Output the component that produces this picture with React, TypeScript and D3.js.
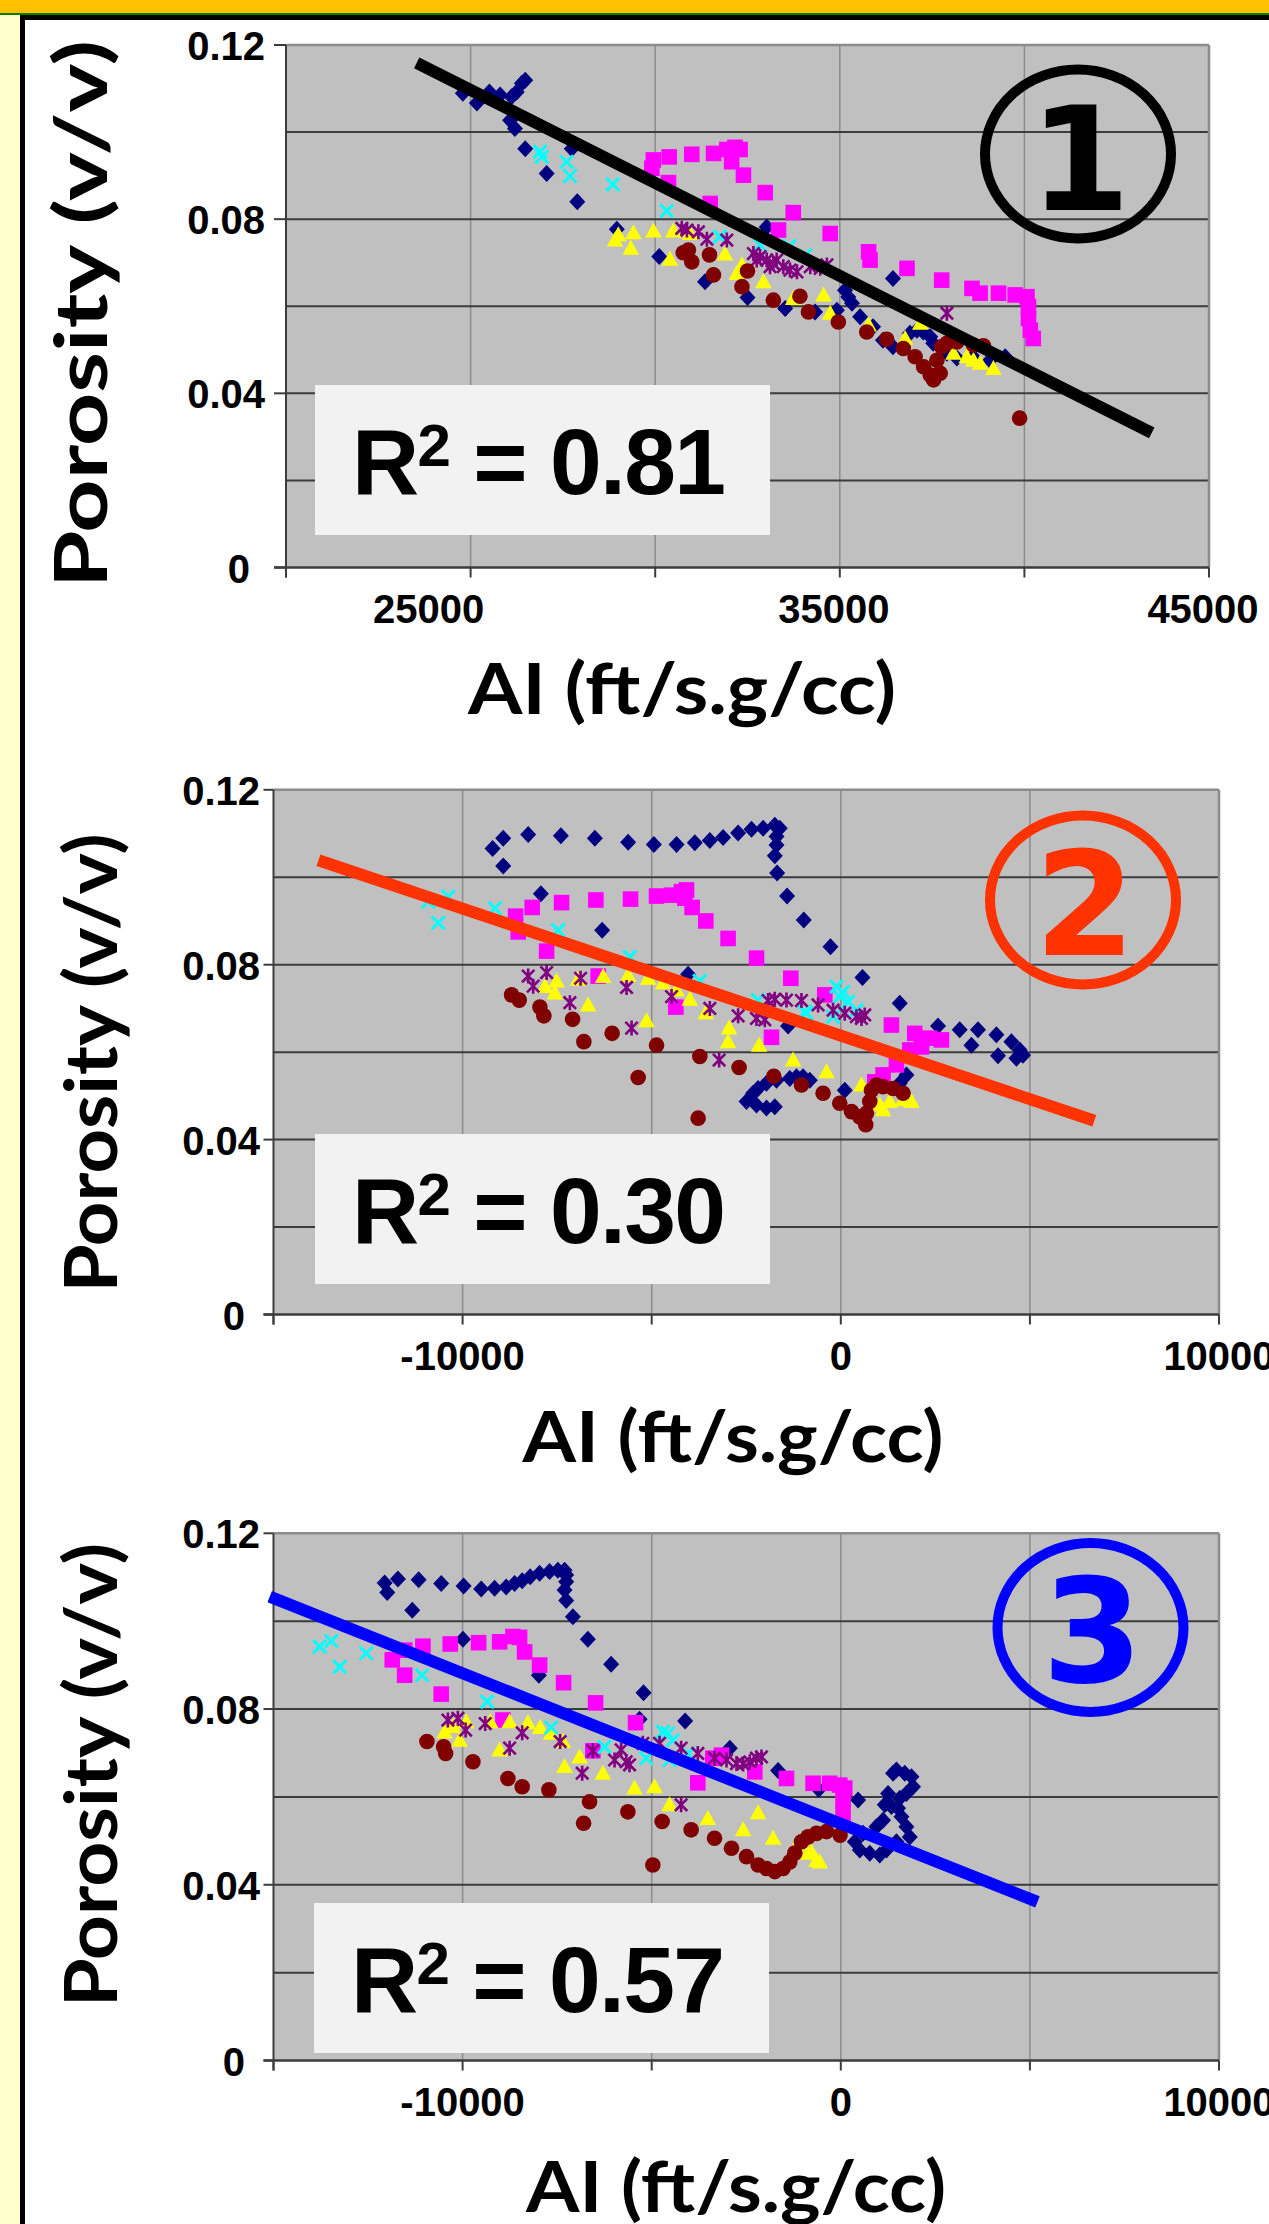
import React from "react";
import * as d3 from "d3";

type Pt = [number, number];

// ---- chart 1 : AI (ft/s.g/cc), absolute ----
const c1Navy: Pt[] = [
  [24790, 0.1089], [25170, 0.1067], [25510, 0.1092], [25800, 0.1085], [26110, 0.1081], [26250, 0.1092],
  [26390, 0.1112], [26480, 0.1119], [26070, 0.1027], [26200, 0.1008], [26480, 0.0962], [27060, 0.0905],
  [27740, 0.0962], [27890, 0.084], [28960, 0.0777], [30110, 0.0714], [31350, 0.0656], [32500, 0.062],
  [33020, 0.0782], [33520, 0.0595], [34330, 0.0587], [34920, 0.0591], [35140, 0.0637], [35230, 0.0621],
  [35330, 0.0607], [35550, 0.0576], [35900, 0.0553], [36170, 0.0522], [36440, 0.0507], [36440, 0.0664],
  [36900, 0.0538], [37090, 0.0545], [37260, 0.0541], [37450, 0.053], [37530, 0.0515], [37900, 0.0492],
  [38170, 0.0481], [38610, 0.0484], [39070, 0.0476], [39480, 0.0484],
];
const c1Magenta: Pt[] = [
  [29950, 0.0936], [29910, 0.0917], [30380, 0.0943], [30990, 0.0949], [31580, 0.0951], [31940, 0.096],
  [32160, 0.0965], [32300, 0.096], [32070, 0.0932], [32390, 0.0901], [32980, 0.0861], [30360, 0.0884],
  [31490, 0.0836], [33740, 0.0815], [33340, 0.0775], [34740, 0.0767], [35780, 0.0725], [35820, 0.0706],
  [36820, 0.0687], [37760, 0.066], [38580, 0.0641], [38800, 0.063], [39300, 0.063], [39750, 0.0626],
  [40070, 0.0622], [40110, 0.0599], [40110, 0.0572], [40160, 0.0545], [40240, 0.0526],
];
const c1Yellow: Pt[] = [
  [28910, 0.0752], [29000, 0.0764], [29410, 0.0769], [29340, 0.0733], [29950, 0.0773], [30490, 0.0773],
  [30940, 0.0767], [30400, 0.0708], [31890, 0.072], [32210, 0.0675], [32350, 0.0695], [32930, 0.0656],
  [33740, 0.0618], [34560, 0.0626], [34740, 0.0584], [35780, 0.0557], [36770, 0.0526], [37180, 0.0561],
  [38080, 0.0492], [38440, 0.0484], [38620, 0.0476], [38800, 0.0469], [39160, 0.0457],
];
const c1Cyan: Pt[] = [
  [26880, 0.0955], [26930, 0.0943], [27600, 0.0932], [27690, 0.0899], [28850, 0.088], [30310, 0.0819],
  [31750, 0.076], [32840, 0.074], [33630, 0.0738], [34060, 0.0717],
];
const c1Purple: Pt[] = [
  [30720, 0.0779], [30860, 0.0775], [31170, 0.0771], [31400, 0.0754], [31940, 0.0752], [32660, 0.0721],
  [32840, 0.0714], [33020, 0.0706], [33200, 0.0698], [32750, 0.0706], [33110, 0.0691], [33290, 0.0706],
  [33470, 0.0691], [33650, 0.0683], [33840, 0.0679], [34200, 0.0691], [34470, 0.0687], [34650, 0.0695],
  [37900, 0.0584],
];
const c1Maroon: Pt[] = [
  [30760, 0.0723], [30900, 0.0729], [30990, 0.0702], [31470, 0.0718], [31580, 0.0672], [32350, 0.0645],
  [32500, 0.0681], [33200, 0.0614], [33920, 0.0623], [34150, 0.0587], [34960, 0.0564], [35730, 0.0541],
  [36270, 0.0524], [36720, 0.0503], [37040, 0.0484], [37270, 0.0461], [37450, 0.0442], [37540, 0.0431],
  [37720, 0.0446], [37630, 0.0476], [37760, 0.0507], [37900, 0.0515], [38170, 0.0518], [38620, 0.0511],
  [38890, 0.0509], [39870, 0.0343],
];
const trend1: Pt[] = [[23540, 0.1159], [43450, 0.0309]];

// ---- chart 2 ----
const c2Navy: Pt[] = [
  [-9207, 0.1066], [-8926, 0.1089], [-8926, 0.1026], [-8266, 0.1098], [-7401, 0.1095], [-6503, 0.1089],
  [-5623, 0.108], [-4943, 0.1075], [-4343, 0.1075], [-3860, 0.1079], [-3463, 0.1084], [-3112, 0.1091],
  [-2715, 0.1101], [-2361, 0.111], [-2054, 0.1112], [-1745, 0.1119], [-1613, 0.1112], [-1700, 0.1093],
  [-1700, 0.1074], [-1745, 0.1049], [-1684, 0.101], [-1420, 0.0957], [-979, 0.0902], [-7930, 0.0962],
  [-6310, 0.0879], [-4037, 0.0778], [-1394, 0.066], [-273, 0.0841], [573, 0.0771], [1559, 0.0712],
  [2571, 0.066], [3144, 0.0651], [3628, 0.0651], [4114, 0.064], [4511, 0.0624], [3454, 0.0616],
  [4157, 0.0592], [4730, 0.0605], [4817, 0.0593], [4643, 0.0586], [1736, 0.0548], [1559, 0.0529],
  [105, 0.0513], [-820, 0.0536], [-1172, 0.0544], [-2493, 0.0487], [-2319, 0.0506], [-2187, 0.0517],
  [-1965, 0.0529], [-1700, 0.0536], [-1349, 0.054], [-998, 0.0544], [-2229, 0.0479], [-1965, 0.0472],
  [-1745, 0.0475],
];
const c2Magenta: Pt[] = [
  [-8599, 0.0911], [-8530, 0.0875], [-8160, 0.0931], [-7779, 0.0831], [-7383, 0.0942], [-6476, 0.0948],
  [-5559, 0.095], [-4872, 0.0957], [-4475, 0.0959], [-4211, 0.0967], [-4079, 0.0971], [-4124, 0.0952],
  [-3931, 0.0931], [-3569, 0.09], [-2980, 0.086], [-2229, 0.0815], [-1322, 0.0769], [-6415, 0.0774],
  [-4362, 0.0703], [-1833, 0.0634], [-424, 0.0731], [1339, 0.0662], [1955, 0.0643], [2352, 0.0632],
  [2661, 0.0628], [2132, 0.0612], [1823, 0.0605], [1471, 0.0571], [1117, 0.0548], [898, 0.0532],
];
const c2Yellow: Pt[] = [
  [-7824, 0.075], [-7515, 0.0763], [-7560, 0.0735], [-6944, 0.0767], [-6680, 0.0708], [-6283, 0.0773],
  [-5623, 0.0776], [-5136, 0.0672], [-5094, 0.0769], [-4697, 0.0759], [-4343, 0.0742], [-3992, 0.0721],
  [-3569, 0.069], [-2953, 0.0655], [-2980, 0.0624], [-2160, 0.0616], [-1262, 0.0582], [-378, 0.0555],
  [546, 0.0525], [1030, 0.0479], [1294, 0.0487], [1646, 0.0491], [1868, 0.0487], [1117, 0.0468],
];
const c2Cyan: Pt[] = [
  [-10909, 0.0944], [-10380, 0.0956], [-10644, 0.0896], [-9146, 0.0929], [-7473, 0.0879], [-5578, 0.0818],
  [-3728, 0.0763], [-2187, 0.0719], [-952, 0.0692], [-115, 0.075], [60, 0.0738], [-28, 0.0727],
  [192, 0.0715], [-204, 0.0681], [-908, 0.0689], [414, 0.0696],
];
const c2Purple: Pt[] = [
  [-8266, 0.0774], [-8134, 0.0751], [-7779, 0.0782], [-7164, 0.0713], [-6881, 0.0769], [-5665, 0.0748],
  [-5532, 0.0655], [-4475, 0.0727], [-3463, 0.07], [-3217, 0.0582], [-2715, 0.0683], [-2229, 0.0677],
  [-2010, 0.0674], [-1922, 0.0718], [-1745, 0.0721], [-1436, 0.0719], [-1040, 0.0718], [-601, 0.0708],
  [-204, 0.0696], [105, 0.0689], [414, 0.0681], [546, 0.0677], [633, 0.0685],
];
const c2Maroon: Pt[] = [
  [-8705, 0.0731], [-8503, 0.0719], [-7956, 0.0703], [-7851, 0.0683], [-7092, 0.0675], [-6794, 0.0624],
  [-6046, 0.0643], [-4872, 0.0616], [-5358, 0.0542], [-3728, 0.059], [-2689, 0.0565], [-1772, 0.0545],
  [-1040, 0.0525], [-3772, 0.0449], [-469, 0.0506], [-28, 0.0483], [282, 0.0464], [502, 0.0452],
  [678, 0.046], [766, 0.0487], [810, 0.0513], [942, 0.0525], [1117, 0.0521], [1382, 0.0517],
  [1646, 0.0506], [660, 0.0434],
];
const trend2: Pt[] = [[-13811, 0.1039], [6704, 0.0443]];

// ---- chart 3 ----
const c3Navy: Pt[] = [
  [-12061, 0.1087], [-11992, 0.1065], [-11710, 0.1096], [-11162, 0.1094], [-10565, 0.1086], [-9973, 0.108],
  [-9508, 0.1073], [-9154, 0.1075], [-8847, 0.1078], [-8625, 0.1086], [-8424, 0.1092], [-8213, 0.1101],
  [-7964, 0.1109], [-7700, 0.1113], [-7481, 0.1116], [-7304, 0.1116], [-7261, 0.1105], [-7261, 0.109],
  [-7304, 0.1071], [-7261, 0.1047], [-7084, 0.101], [-6688, 0.0959], [-6072, 0.0902], [-5216, 0.0837],
  [-11331, 0.1025], [-9991, 0.0959], [-7983, 0.0877], [-5321, 0.0777], [-4116, 0.0773], [-2935, 0.0711],
  [-1658, 0.066], [-583, 0.0617], [457, 0.0593], [1162, 0.0582], [1471, 0.0661], [1691, 0.0654],
  [1868, 0.0646], [1910, 0.0623], [1735, 0.0608], [1559, 0.0597], [1339, 0.0578], [1603, 0.0555],
  [1735, 0.0532], [1823, 0.0509], [1471, 0.0498], [1207, 0.0479], [1030, 0.0468], [766, 0.0472],
  [502, 0.0479], [370, 0.0498], [588, 0.0517], [942, 0.0532], [1117, 0.0547], [1382, 0.0654],
  [1250, 0.0608], [1514, 0.0574],
];
const c3Magenta: Pt[] = [
  [-11860, 0.0912], [-11532, 0.0877], [-11532, 0.0934], [-11049, 0.0943], [-10565, 0.0834], [-10327, 0.0948],
  [-9576, 0.0951], [-9021, 0.0953], [-8670, 0.0965], [-8493, 0.0963], [-8361, 0.093], [-7964, 0.09],
  [-7330, 0.086], [-6484, 0.0814], [-5427, 0.0769], [-8934, 0.0775], [-6556, 0.0705], [-3781, 0.0632],
  [-3384, 0.0688], [-3154, 0.0695], [-2274, 0.0657], [-1436, 0.0642], [-733, 0.0631], [-291, 0.0631],
  [-28, 0.0627], [105, 0.062], [60, 0.0593], [60, 0.0563],
];
const c3Yellow: Pt[] = [
  [-10475, 0.0748], [-10256, 0.076], [-10079, 0.0729], [-9904, 0.0771], [-9270, 0.0771], [-9021, 0.0707],
  [-8757, 0.0771], [-8273, 0.0769], [-7948, 0.0758], [-7658, 0.0745], [-7304, 0.0669], [-6907, 0.0691],
  [-6291, 0.0654], [-5454, 0.062], [-4925, 0.0623], [-4528, 0.0582], [-3516, 0.0551], [-7348, 0.0726],
  [-2187, 0.0564], [-2583, 0.0525], [-1790, 0.0506], [-1172, 0.049], [-866, 0.0472], [-644, 0.0456],
  [-556, 0.0452], [-777, 0.0475],
];
const c3Cyan: Pt[] = [
  [-13779, 0.0942], [-13472, 0.0955], [-13251, 0.0896], [-12547, 0.0927], [-11075, 0.0877], [-9349, 0.0817],
  [-7658, 0.0758], [-6246, 0.0714], [-5146, 0.0688], [-4705, 0.0748], [-4573, 0.0745], [-4441, 0.0729],
  [-4045, 0.0699], [-4528, 0.0684],
];
const c3Purple: Pt[] = [
  [-10388, 0.0775], [-10124, 0.0779], [-9920, 0.0752], [-9402, 0.0767], [-8757, 0.0711], [-8424, 0.0746],
  [-7420, 0.0726], [-6838, 0.0654], [-6556, 0.0705], [-5982, 0.0684], [-5808, 0.0707], [-5675, 0.068],
  [-5586, 0.0673], [-5234, 0.0722], [-4793, 0.0722], [-4222, 0.0582], [-4222, 0.0711], [-3781, 0.0699],
  [-3339, 0.0688], [-3022, 0.0684], [-2757, 0.0676], [-2583, 0.0675], [-2406, 0.068], [-2229, 0.0688],
  [-2097, 0.0691],
];
const c3Maroon: Pt[] = [
  [-10943, 0.0726], [-10502, 0.0714], [-10449, 0.0699], [-9727, 0.068], [-8802, 0.0642], [-8424, 0.0623],
  [-7719, 0.0616], [-6643, 0.0589], [-6801, 0.054], [-5630, 0.0566], [-4724, 0.0544], [-3957, 0.0525],
  [-3339, 0.0506], [-4970, 0.0445], [-2890, 0.0483], [-2494, 0.0464], [-2187, 0.0445], [-1965, 0.0437],
  [-1745, 0.043], [-1526, 0.0437], [-1349, 0.0452], [-1217, 0.0472], [-1040, 0.0498], [-866, 0.0509],
  [-644, 0.0517], [-378, 0.0521], [-19, 0.0513],
];
const trend3: Pt[] = [[-15100, 0.1056], [5200, 0.0361]];

const yGridVals = [0.02, 0.04, 0.06, 0.08, 0.1];
const yTickVals = [0, 0.04, 0.08, 0.12];
const xLabels1 = [25000, 35000, 45000];
const xLabels23 = [-10000, 0, 10000];
const r2Values = ["0.81", "0.30", "0.57"];
const badgeNums = ["1", "2", "3"];

// Excel 2003 default series order / markers
const markerStyles = [
  { shape: "diamond", color: "#000080" },
  { shape: "square", color: "#FF00FF" },
  { shape: "triangle", color: "#FFFF00" },
  { shape: "x", color: "#00FFFF" },
  { shape: "star", color: "#800080" },
  { shape: "circle", color: "#800000" },
];

const panels = [
  {
    left: 286, right: 1209, top: 45, bottom: 567.5, xDomain: [20000, 45000], xLabels: xLabels1,
    xLabelDx: [-42, -6, -6], labelRight: 265, tickLen: 12,
    series: [c1Navy, c1Magenta, c1Yellow, c1Cyan, c1Purple, c1Maroon], trend: trend1, trendColor: "#000000",
    box: { x: 315, y: 385 }, badge: { cx: 1078, cy: 154, color: "#000000", base: 210 },
    xTitle: { cx: 682, y: 714, len: 428 }, yTitle: { cy: 314, x: 107, len: 548 },
  },
  {
    left: 273.5, right: 1219, top: 789.8, bottom: 1314.5, xDomain: [-15000, 10000], xLabels: xLabels23,
    xLabelDx: [0, 0, 0], labelRight: 260, tickLen: 10,
    series: [c2Navy, c2Magenta, c2Yellow, c2Cyan, c2Purple, c2Maroon], trend: trend2, trendColor: "#FF3300",
    box: { x: 315, y: 1134 }, badge: { cx: 1083, cy: 900, color: "#FF3300", base: 955 },
    xTitle: { cx: 733, y: 1462, len: 421 }, yTitle: { cy: 1063, x: 117, len: 459 },
  },
  {
    left: 273.5, right: 1219, top: 1533.3, bottom: 2060.5, xDomain: [-15000, 10000], xLabels: xLabels23,
    xLabelDx: [0, 0, 0], labelRight: 260, tickLen: 10,
    series: [c3Navy, c3Magenta, c3Yellow, c3Cyan, c3Purple, c3Maroon], trend: trend3, trendColor: "#0000FF",
    box: { x: 314, y: 1903 }, badge: { cx: 1090.5, cy: 1627.5, color: "#0000FF", base: 1682 },
    xTitle: { cx: 736, y: 2212, len: 420 }, yTitle: { cy: 1775, x: 117, len: 464 },
  },
];

function Marker({ shape, color, x, y }: { shape: string; color: string; x: number; y: number }) {
  if (shape === "diamond")
    return <path d={`M${x},${y - 8.5}L${x + 8},${y}L${x},${y + 8.5}L${x - 8},${y}Z`} fill={color} />;
  if (shape === "square") return <rect x={x - 7.8} y={y - 7.8} width={15.6} height={15.6} fill={color} />;
  if (shape === "triangle")
    return <path d={`M${x},${y - 8.5}L${x + 8.3},${y + 6.5}L${x - 8.3},${y + 6.5}Z`} fill={color} />;
  if (shape === "circle") return <circle cx={x} cy={y} r={7.8} fill={color} />;
  if (shape === "x")
    return (
      <path d={`M${x - 6.5},${y - 6.5}L${x + 6.5},${y + 6.5}M${x - 6.5},${y + 6.5}L${x + 6.5},${y - 6.5}`}
        stroke={color} strokeWidth={3} />
    );
  // star = x + vertical bar
  return (
    <path d={`M${x - 6.2},${y - 6.2}L${x + 6.2},${y + 6.2}M${x - 6.2},${y + 6.2}L${x + 6.2},${y - 6.2}M${x},${y - 7.5}L${x},${y + 7.5}`}
      stroke={color} strokeWidth={2.6} />
  );
}

function Panel({ p, i }: { p: any; i: number }) {
  const x = d3.scaleLinear().domain(p.xDomain).range([p.left, p.right]);
  const y = d3.scaleLinear().domain([0, 0.12]).range([p.bottom, p.top]);
  const xGrid = d3.range(p.xDomain[0], p.xDomain[1] + 1, 5000);
  const line = d3.line<Pt>().x((d) => x(d[0])).y((d) => y(d[1]));
  const tickFont = { fontFamily: "'Liberation Sans', Arial, sans-serif", fontWeight: 700, fontSize: 40 };
  const titleFont = { fontFamily: "Lato, 'Open Sans', sans-serif", fontWeight: 700, fontSize: 72 };

  return (
    <g>
      <rect x={p.left} y={p.top} width={p.right - p.left} height={p.bottom - p.top} fill="#C0C0C0" />
      {xGrid.slice(1, -1).map((v: number) => (
        <line key={"vx" + v} x1={x(v)} x2={x(v)} y1={p.top} y2={p.bottom} stroke="#8c8c8c" strokeWidth={1.5} />
      ))}
      {yGridVals.map((v) => (
        <line key={"hy" + v} x1={p.left} x2={p.right} y1={y(v)} y2={y(v)} stroke="#3c3c3c" strokeWidth={2} />
      ))}
      <line x1={p.left} x2={p.right} y1={p.top} y2={p.top} stroke="#8c8c8c" strokeWidth={2.5} />
      <line x1={p.right} x2={p.right} y1={p.top} y2={p.bottom} stroke="#8c8c8c" strokeWidth={2.5} />
      <line x1={p.left} x2={p.left} y1={p.top} y2={p.bottom + 10} stroke="#3c3c3c" strokeWidth={2} />
      <line x1={p.left - p.tickLen} x2={p.right} y1={p.bottom} y2={p.bottom} stroke="#3c3c3c" strokeWidth={2.5} />
      {yTickVals.map((v) => (
        <g key={"yt" + v}>
          <line x1={p.left - p.tickLen} x2={p.left} y1={y(v)} y2={y(v)} stroke="#3c3c3c" strokeWidth={2} />
          <text x={p.labelRight - (v === 0 ? 15 : 0)} y={y(v) + 15} textAnchor="end" {...tickFont}>
            {v === 0 ? "0" : d3.format(".2f")(v)}
          </text>
        </g>
      ))}
      {xGrid.map((v: number) => (
        <line key={"xt" + v} x1={x(v)} x2={x(v)} y1={p.bottom} y2={p.bottom + 10} stroke="#3c3c3c" strokeWidth={2} />
      ))}
      {p.xLabels.map((v: number, k: number) => (
        <text key={"xl" + v} x={x(v) + p.xLabelDx[k]} y={p.bottom + 55} textAnchor="middle" {...tickFont}>
          {String(v)}
        </text>
      ))}

      {p.series.map((pts: Pt[], si: number) => (
        <g key={"s" + si}>
          {pts.map((d, k) => (
            <Marker key={k} shape={markerStyles[si].shape} color={markerStyles[si].color} x={x(d[0])} y={y(d[1])} />
          ))}
        </g>
      ))}

      <path d={line(p.trend) || ""} stroke={p.trendColor} strokeWidth={12} fill="none" />

      <rect x={p.box.x} y={p.box.y} width={455} height={150} fill="#F2F2F2" />
      <text x={p.box.x + 37} y={p.box.y + 109} fontFamily="'Liberation Sans', Arial, sans-serif" fontWeight={700}
        fontSize={93} textLength={374} lengthAdjust="spacing">
        R<tspan dy={-28} fontSize={60}>2</tspan>
        <tspan dy={28}>{" = " + r2Values[i]}</tspan>
      </text>

      <ellipse cx={p.badge.cx} cy={p.badge.cy} rx={93} ry={84.5} fill="none" stroke={p.badge.color} strokeWidth={10} />
      <text x={p.badge.cx + 2} y={p.badge.base} textAnchor="middle" fill={p.badge.color}
        fontFamily="'DejaVu Sans', sans-serif" fontWeight={700} fontSize={145}>
        {badgeNums[i]}
      </text>

      <text x={p.xTitle.cx} y={p.xTitle.y} textAnchor="middle" textLength={p.xTitle.len}
        lengthAdjust="spacingAndGlyphs" {...titleFont} fontSize={70}>
        AI (ft/s.g/cc)
      </text>
      <text transform={`translate(${p.yTitle.x},${p.yTitle.cy}) rotate(-90)`} textAnchor="middle"
        textLength={p.yTitle.len} lengthAdjust="spacingAndGlyphs" {...titleFont}>
        Porosity (v/v)
      </text>
    </g>
  );
}

export default function App() {
  return (
    <svg width={1269} height={2224} style={{ position: "absolute", left: 0, top: 0, display: "block" }}>
      <rect width={1269} height={2224} fill="#FFFFFF" />
      <rect x={0} y={0} width={1269} height={13} fill="#FFC000" />
      <rect x={0} y={13} width={1269} height={2} fill="#008000" />
      <rect x={0} y={15} width={20} height={2209} fill="#FFFFCC" />
      <rect x={20} y={15} width={1249} height={5} fill="#000000" />
      <rect x={20} y={15} width={5} height={2209} fill="#000000" />
      {panels.map((p, i) => (
        <Panel key={i} p={p} i={i} />
      ))}
    </svg>
  );
}
